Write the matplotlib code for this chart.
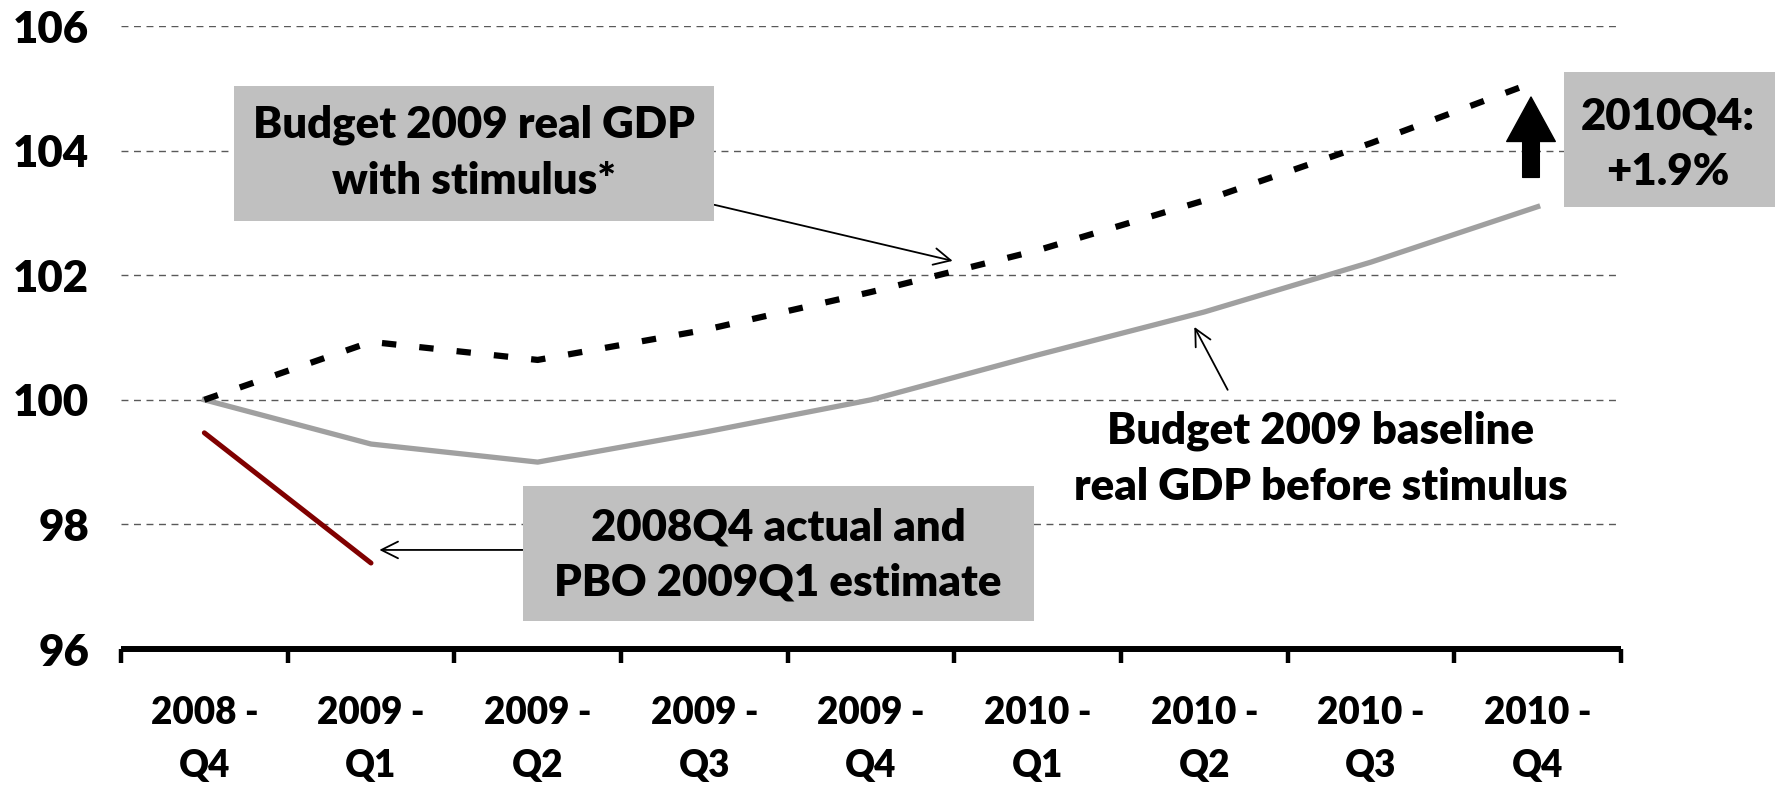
import matplotlib
matplotlib.use("Agg")
import matplotlib.pyplot as plt
from matplotlib.patches import Rectangle

# Données (indice, 2008Q4 = 100)
trimestres = ["2008 -\nQ4", "2009 -\nQ1", "2009 -\nQ2", "2009 -\nQ3", "2009 -\nQ4",
              "2010 -\nQ1", "2010 -\nQ2", "2010 -\nQ3", "2010 -\nQ4"]
avec_relance = [100.0, 100.93, 100.64, 101.12, 101.73, 102.40, 103.20, 104.12, 105.12]
scenario_base = [100.0, 99.29, 99.0, 99.48, 100.0, 100.72, 101.41, 102.21, 103.10]
reel_pbo = [99.47, 97.38]
graduations_y = [96, 98, 100, 102, 104, 106]

police = "Lato"
graisse = "heavy"
plt.rcParams["font.family"] = [police, "DejaVu Sans"]
plt.rcParams["font.weight"] = graisse

fig = plt.figure(figsize=(17.75, 7.85), dpi=100)
ax = fig.add_axes([121 / 1775, 136 / 785, 1500 / 1775, 623 / 785])

x = list(range(len(trimestres)))

# Quadrillage horizontal
for v in graduations_y[1:]:
    ax.axhline(v, color="#595959", lw=1.0, ls=(0, (5, 4)), zorder=1)

ax.plot(x, scenario_base, color="#A0A0A0", lw=3.8, solid_joinstyle="round", zorder=3)
ax.plot(x, avec_relance, color="black", lw=4.5, ls=(0, (2.3, 3.7)), dash_capstyle="butt",
        zorder=4)
ax.plot(x[:2], reel_pbo, color="#800000", lw=3.6, solid_capstyle="round", zorder=4)

ax.set_xlim(-0.5, len(trimestres) - 0.5)
ax.set_ylim(96, 106)

# Axe des x
for s in ["top", "right", "left"]:
    ax.spines[s].set_visible(False)
ax.spines["bottom"].set_linewidth(4.3)
ax.spines["bottom"].set_capstyle("butt")
ax.set_xticks([i - 0.5 for i in range(len(trimestres) + 1)])
ax.set_xticklabels([])
ax.set_xticks(x, minor=True)
ax.set_xticklabels(trimestres, minor=True, fontsize=26.5, fontweight=graisse,
                   linespacing=1.66)
ax.tick_params(axis="x", which="major", direction="out", length=10, width=3.2)
ax.tick_params(axis="x", which="minor", length=0, pad=34)
ax.set_yticks(graduations_y)
ax.set_yticklabels([str(v) for v in graduations_y], fontsize=31.5, fontweight=graisse)
ax.tick_params(axis="y", length=0, pad=23)

# Encadrés gris
def encadre(x0, y0, x1, y1, texte, xc, yc):
    fig.patches.append(Rectangle((x0 / 1775, 1 - y1 / 785), (x1 - x0) / 1775,
                                 (y1 - y0) / 785, transform=fig.transFigure,
                                 facecolor="#C0C0C0", edgecolor="none", zorder=5))
    fig.text(xc / 1775, 1 - yc / 785, texte, ha="center", va="center",
             fontsize=31.5, fontweight=graisse, linespacing=1.48, zorder=6)

encadre(234, 86, 714, 221, "Budget 2009 real GDP\nwith stimulus*", 474, 153)
encadre(1564, 72, 1775, 207, "2010Q4:\n+1.9%", 1668, 144)
encadre(523, 486, 1034, 621, "2008Q4 actual and\nPBO 2009Q1 estimate", 778, 555)

fig.text(1321 / 1775, 1 - 459 / 785, "Budget 2009 baseline\nreal GDP before stimulus",
         ha="center", va="center", fontsize=31.5, fontweight=graisse, linespacing=1.48)

# Flèches
fleche = dict(arrowstyle="->,head_length=0.6,head_width=0.3", color="black", lw=1.3,
              shrinkA=0, shrinkB=0, mutation_scale=20)
ax.annotate("", xy=(4.49, 102.23), xytext=(3.06, 103.13), arrowprops=fleche,
            annotation_clip=False)
ax.annotate("", xy=(5.94, 101.17), xytext=(6.14, 100.16), arrowprops=fleche,
            annotation_clip=False)
ax.annotate("", xy=(1.05, 97.59), xytext=(1.91, 97.59), arrowprops=fleche,
            annotation_clip=False)
ax.annotate("", xy=(7.96, 104.86), xytext=(7.96, 103.57),
            arrowprops=dict(arrowstyle="simple,head_length=32,head_width=35,tail_width=12",
                            color="black", shrinkA=0, shrinkB=0, mutation_scale=1),
            annotation_clip=False)

fig.savefig("out.png", dpi=100)
